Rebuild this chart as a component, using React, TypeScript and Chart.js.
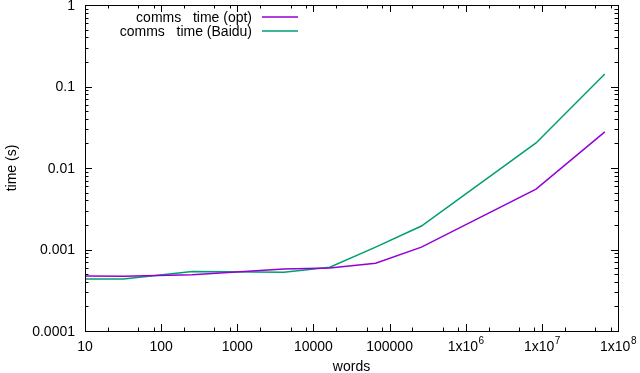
import React, { useEffect, useRef } from "react";
import { Chart, registerables } from "chart.js";

Chart.register(...registerables);

const words = [10, 32, 256, 4096, 16384, 65536, 262144, 8388608, 67108864];
const optTimes = [0.000473, 0.00047, 0.00049, 0.000575, 0.000593, 0.00068, 0.00107, 0.0055, 0.0277];
const baiduTimes = [0.000436, 0.000436, 0.000537, 0.000525, 0.000605, 0.00107, 0.00194, 0.0203, 0.142];

const seriesNames = ["comms\u00a0\u00a0\u00a0time (opt)", "comms\u00a0\u00a0\u00a0time (Baidu)"];
const seriesColors = ["#9400d3", "#009e73"];

const xTickValues = [10, 100, 1000, 10000, 100000, 1e6, 1e7, 1e8];
const xTickLabels = ["10", "100", "1000", "10000", "100000", "1x10^6", "1x10^7", "1x10^8"];
const xMinorMultipliers = [2, 5, 8];
const yTickValues = [1, 0.1, 0.01, 0.001, 0.0001];
const yTickLabels = ["1", "0.1", "0.01", "0.001", "0.0001"];
const yMinorMultipliers = [2, 3, 4, 5, 6, 7, 8, 9];

const xTitle = "words";
const yTitle = "time (s)";

const FONT = "'Liberation Sans', Arial, Helvetica, sans-serif";

const gnuplotPlugin = {
  id: "gnuplotDecor",
  afterDraw(chart: any) {
    const ctx: CanvasRenderingContext2D = chart.ctx;
    const { left, right, top, bottom } = chart.chartArea;
    const xs = chart.scales.x;
    const ys = chart.scales.y;
    ctx.save();
    ctx.strokeStyle = "#000";
    ctx.lineWidth = 1;
    // border
    ctx.strokeRect(Math.round(left) + 0.5, Math.round(top) + 0.5, Math.round(right - left), Math.round(bottom - top));

    const major = 7;
    const minor = 3.5;
    ctx.beginPath();
    // x ticks
    xTickValues.forEach((v, i) => {
      const px = Math.round(xs.getPixelForValue(v)) + 0.5;
      ctx.moveTo(px, bottom); ctx.lineTo(px, bottom - major);
      ctx.moveTo(px, top); ctx.lineTo(px, top + major);
      if (i < xTickValues.length - 1) {
        xMinorMultipliers.forEach((m) => {
          const mx = Math.round(xs.getPixelForValue(v * m)) + 0.5;
          ctx.moveTo(mx, bottom); ctx.lineTo(mx, bottom - minor);
          ctx.moveTo(mx, top); ctx.lineTo(mx, top + minor);
        });
      }
    });
    // y ticks
    yTickValues.forEach((v, i) => {
      const py = Math.round(ys.getPixelForValue(v)) + 0.5;
      ctx.moveTo(left, py); ctx.lineTo(left + major, py);
      ctx.moveTo(right, py); ctx.lineTo(right - major, py);
      if (i > 0) {
        yMinorMultipliers.forEach((m) => {
          const my = Math.round(ys.getPixelForValue(v * m)) + 0.5;
          ctx.moveTo(left, my); ctx.lineTo(left + minor, my);
          ctx.moveTo(right, my); ctx.lineTo(right - minor, my);
        });
      }
    });
    ctx.stroke();

    // labels
    ctx.fillStyle = "#000";
    ctx.font = `14px ${FONT}`;
    ctx.textBaseline = "middle";
    ctx.textAlign = "right";
    yTickValues.forEach((v, i) => {
      ctx.fillText(yTickLabels[i], left - 10, ys.getPixelForValue(v) + 1);
    });
    xTickValues.forEach((v, i) => {
      const px = xs.getPixelForValue(v);
      const lab = xTickLabels[i];
      const y = bottom + 16;
      if (lab.includes("^")) {
        const [base, exp] = lab.split("^");
        ctx.font = `14px ${FONT}`;
        const wb = ctx.measureText(base).width;
        ctx.font = `10px ${FONT}`;
        const we = ctx.measureText(exp).width;
        const start = px - (wb + we) / 2;
        ctx.textAlign = "left";
        ctx.font = `14px ${FONT}`;
        ctx.fillText(base, start, y);
        ctx.font = `10px ${FONT}`;
        ctx.fillText(exp, start + wb + 0.5, y - 6);
      } else {
        ctx.textAlign = "center";
        ctx.font = `14px ${FONT}`;
        ctx.fillText(lab, px, y);
      }
    });

    // axis titles
    ctx.font = `14px ${FONT}`;
    ctx.textAlign = "center";
    ctx.fillText(xTitle, (left + right) / 2, bottom + 36);
    ctx.save();
    ctx.translate(12, (top + bottom) / 2);
    ctx.rotate(-Math.PI / 2);
    ctx.fillText(yTitle, 0, 0);
    ctx.restore();

    // legend (gnuplot style: text right-aligned, sample to the right)
    const legendTextRight = left + 167;
    const sampleX0 = left + 177;
    const sampleX1 = left + 213;
    const rowY = [top + 12, top + 26];
    seriesNames.forEach((name, i) => {
      ctx.textAlign = "right";
      ctx.fillStyle = "#000";
      ctx.font = `14px ${FONT}`;
      ctx.fillText(name, legendTextRight, rowY[i] + 1);
      ctx.strokeStyle = seriesColors[i];
      ctx.lineWidth = 1.5;
      ctx.beginPath();
      ctx.moveTo(sampleX0, rowY[i]);
      ctx.lineTo(sampleX1, rowY[i]);
      ctx.stroke();
    });
    ctx.restore();
  },
};

export default function App() {
  const ref = useRef<HTMLCanvasElement | null>(null);
  useEffect(() => {
    document.body.style.margin = "0";
    const canvas = ref.current;
    if (!canvas) return;
    const chart = new Chart(canvas, {
      type: "line",
      data: {
        datasets: [
          {
            label: seriesNames[0],
            data: words.map((w, i) => ({ x: w, y: optTimes[i] })),
            borderColor: seriesColors[0],
            borderWidth: 1.5,
            pointRadius: 0,
            tension: 0,
            fill: false,
          },
          {
            label: seriesNames[1],
            data: words.map((w, i) => ({ x: w, y: baiduTimes[i] })),
            borderColor: seriesColors[1],
            borderWidth: 1.5,
            pointRadius: 0,
            tension: 0,
            fill: false,
          },
        ],
      },
      options: {
        responsive: false,
        animation: false,
        devicePixelRatio: 1,
        layout: { padding: { left: 0, right: 22, top: 5, bottom: 0 } },
        plugins: { legend: { display: false }, tooltip: { enabled: false } },
        scales: {
          x: {
            type: "logarithmic",
            min: 10,
            max: 1e8,
            grid: { display: false },
            border: { display: false },
            ticks: { display: false },
            afterFit: (s: any) => { s.height = 42; },
          },
          y: {
            type: "logarithmic",
            min: 0.0001,
            max: 1,
            grid: { display: false },
            border: { display: false },
            ticks: { display: false },
            afterFit: (s: any) => { s.width = 85; },
          },
        },
      },
      plugins: [gnuplotPlugin],
    } as any);
    return () => chart.destroy();
  }, []);
  return <canvas ref={ref} width={640} height={373} style={{ display: "block" }} />;
}
